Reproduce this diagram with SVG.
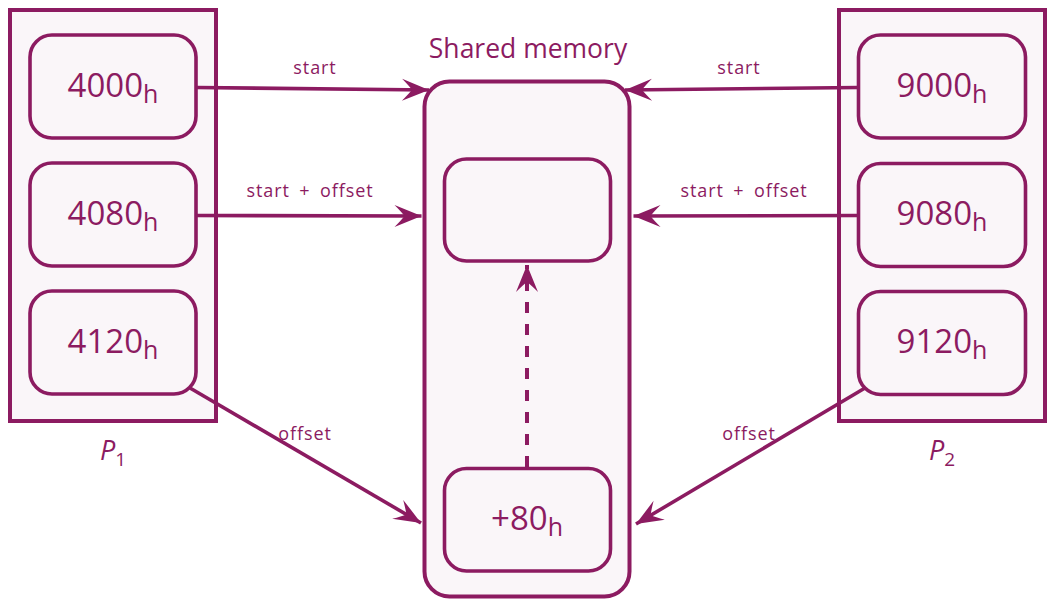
<svg xmlns="http://www.w3.org/2000/svg" width="1057" height="606" viewBox="0 0 1057 606">
<style>
.frame{fill:#faf6f9;stroke:#8c1b61;stroke-width:4}
.node{fill:#faf6f9;stroke:#8c1b61;stroke-width:3.6}
.num{font-family:"Open Sans",sans-serif;font-size:33px;fill:#8c1b61;text-anchor:middle}
.sub{font-size:25px}
.lbl{font-family:"Open Sans",sans-serif;font-size:18px;letter-spacing:0.9px;fill:#8c1b61;text-anchor:middle}
.title{font-family:"Open Sans",sans-serif;font-size:26.5px;fill:#8c1b61;text-anchor:middle}
.pl{font-family:"Open Sans",sans-serif;font-size:27px;font-style:italic;fill:#8c1b61;text-anchor:middle}
.ps{font-size:19px;font-style:normal}
.edge{fill:none;stroke:#8c1b61;stroke-width:3.6;marker-end:url(#arr)}
.dash{fill:none;stroke:#8c1b61;stroke-width:4;stroke-dasharray:11 11;marker-end:url(#arr)}
</style>
<defs>
<marker id="arr" markerUnits="userSpaceOnUse" viewBox="-28 -12 30 24" refX="0" refY="0" markerWidth="30" markerHeight="24" orient="auto" overflow="visible">
<path d="M0,0 L-27,-11 Q-20,-4 -17,0 Q-20,4 -27,11 Z" fill="#8c1b61"/>
</marker>
</defs>

<g id="P1">
<rect class="frame" x="10" y="10" width="206" height="411"/>
<text class="pl" x="113" y="460">P<tspan class="ps" dy="6">1</tspan></text>
</g>
<g id="n4000">
<rect class="node" x="30" y="35" width="166" height="103" rx="22"/>
<text class="num" x="113" y="97">4000<tspan class="sub" dy="6">h</tspan></text>
</g>
<g id="n4080">
<rect class="node" x="30" y="163" width="166" height="103" rx="22"/>
<text class="num" x="113" y="225">4080<tspan class="sub" dy="6">h</tspan></text>
</g>
<g id="n4120">
<rect class="node" x="30" y="291" width="166" height="103" rx="22"/>
<text class="num" x="113" y="353">4120<tspan class="sub" dy="6">h</tspan></text>
</g>

<g id="P2">
<rect class="frame" x="839" y="10" width="206" height="411"/>
<text class="pl" x="942" y="460">P<tspan class="ps" dy="6">2</tspan></text>
</g>
<g id="n9000">
<rect class="node" x="858.5" y="35" width="167" height="103" rx="22"/>
<text class="num" x="942" y="97">9000<tspan class="sub" dy="6">h</tspan></text>
</g>
<g id="n9080">
<rect class="node" x="858.5" y="163.5" width="167" height="103" rx="22"/>
<text class="num" x="942" y="225">9080<tspan class="sub" dy="6">h</tspan></text>
</g>
<g id="n9120">
<rect class="node" x="858.5" y="291.5" width="167" height="103" rx="22"/>
<text class="num" x="942" y="353">9120<tspan class="sub" dy="6">h</tspan></text>
</g>

<g id="shared">
<rect class="frame" x="424.5" y="81.5" width="205" height="515" rx="25"/>
<text class="title" x="528" y="58">Shared memory</text>
</g>
<g id="slot">
<rect class="node" x="444.5" y="159" width="166" height="102" rx="22"/>
</g>
<g id="n80">
<rect class="node" x="444.5" y="468.5" width="166" height="102.5" rx="22"/>
<text class="num" x="527" y="530">+80<tspan class="sub" dy="6">h</tspan></text>
</g>

<g id="connectors">
<path class="edge" d="M196,87.5 L429,90"/>
<path class="edge" d="M196,215.5 L421.5,216"/>
<path class="edge" d="M190,388 L421,523"/>
<path class="edge" d="M858.5,87.5 L625,90"/>
<path class="edge" d="M858.5,215.5 L633.5,216"/>
<path class="edge" d="M865,388 L636,524"/>
<path class="dash" d="M527,467 L527,265"/>
<text class="lbl" x="315" y="74">start</text>
<text class="lbl" x="310" y="197" word-spacing="4">start + offset</text>
<text class="lbl" x="305" y="440">offset</text>
<text class="lbl" x="739" y="74">start</text>
<text class="lbl" x="744" y="197" word-spacing="4">start + offset</text>
<text class="lbl" x="749" y="440">offset</text>
</g>
</svg>
